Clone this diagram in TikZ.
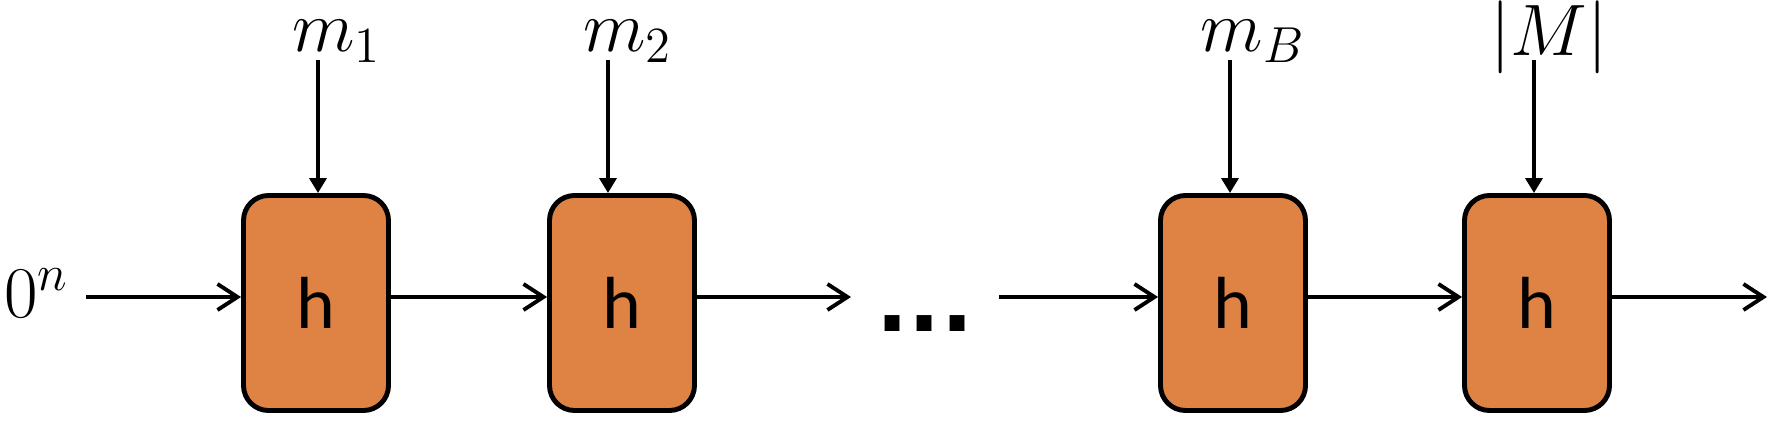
\documentclass[tikz,border=0pt]{standalone}
\usepackage{amsmath}
\usepackage{fontspec}
\newfontfamily\hfont{Carlito}
\newfontfamily\dotfont{DejaVu Sans}
\usetikzlibrary{arrows.meta,positioning}
\definecolor{hfill}{RGB}{223,131,69}

\begin{document}
\begin{tikzpicture}[
        hbox/.style={draw=black, line width=1.4pt, fill=hfill, rounded corners=2.5mm,
            minimum width=1.45cm, minimum height=2.15cm, font=\hfont\fontsize{21}{24}\selectfont},
        chain/.style={line width=1pt, -{Straight Barb[length=2mm,width=2.6mm,line width=1.1pt]}},
        feed/.style={line width=1pt, -{Triangle[length=1.5mm,width=1.7mm]}},
        lbl/.style={inner sep=0pt, font=\huge}]
        \useasboundingbox (0,0) rectangle (17.74,4.24);
        % compression boxes
        \node[hbox] (b1) at (3.16,1.21) {h};
        \node[hbox] (b2) at (6.22,1.21) {h};
        \node[hbox] (b3) at (12.33,1.21) {h};
        \node[hbox] (b4) at (15.37,1.21) {h};
        % chaining value
        \coordinate (in) at (0.86,1.27);
        \coordinate (c1) at (8.51,1.27);
        \coordinate (c2) at (9.99,1.27);
        \coordinate (out) at (17.67,1.27);
        \node[lbl, anchor=base east] (zero) at (0.70,1.07) {$0^n$};
        \draw[chain] (in) -- (in -| b1.west);
        \draw[chain] ([yshift=0.6mm]b1.east) -- ([yshift=0.6mm]b2.west);
        \draw[chain] ([yshift=0.6mm]b2.east) -- (c1);
        \node[anchor=base, font=\dotfont\bfseries\fontsize{24}{28}\selectfont] (dots) at (9.25,0.93) {...};
        \draw[chain] (c2) -- (c2 -| b3.west);
        \draw[chain] ([yshift=0.6mm]b3.east) -- ([yshift=0.6mm]b4.west);
        \draw[chain] ([yshift=0.6mm]b4.east) -- (out);
        % message blocks
        \coordinate (t1) at (3.18,3.64);
        \coordinate (t2) at (6.08,3.64);
        \coordinate (t3) at (12.30,3.64);
        \coordinate (t4) at (15.34,3.64);
        \node[lbl, anchor=base] (m1) at (3.37,3.72) {$m_1$};
        \node[lbl, anchor=base] (m2) at (6.28,3.72) {$m_2$};
        \node[lbl, anchor=base] (mB) at (12.53,3.72) {$m_B$};
        \node[lbl, anchor=base] (len) at (15.49,3.68) {$|M|$};
        \draw[feed] (t1) -- (t1 |- b1.north);
        \draw[feed] (t2) -- (t2 |- b2.north);
        \draw[feed] (t3) -- (t3 |- b3.north);
        \draw[feed] (t4) -- (t4 |- b4.north);
    \end{tikzpicture}
\end{document}
